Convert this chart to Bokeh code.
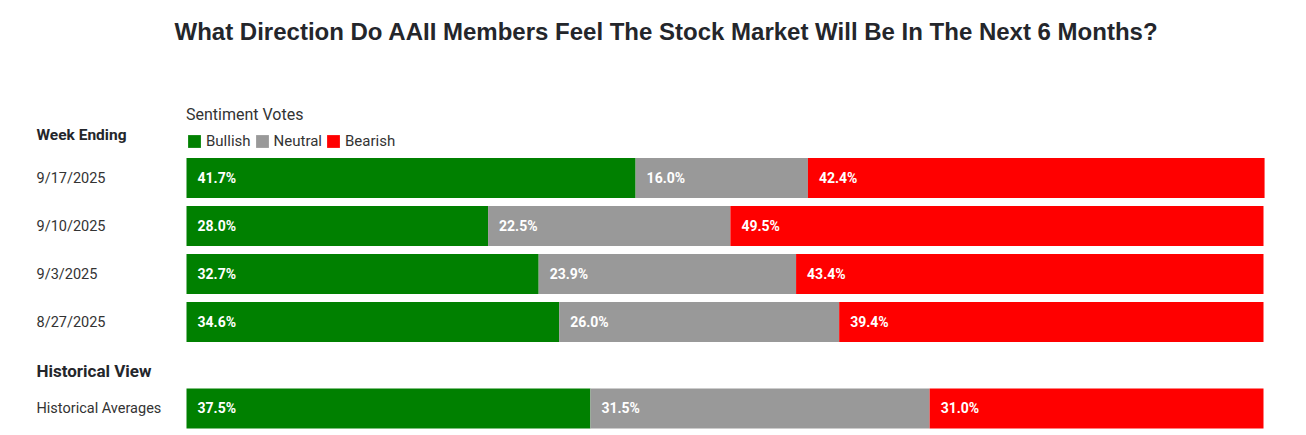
from bokeh.plotting import figure
from bokeh.models import ColumnDataSource, Range1d, Label
from bokeh.embed import file_html
from bokeh.resources import INLINE
from bokeh.core.properties import value

# ---- data ----
weeks = ["9/17/2025", "9/10/2025", "9/3/2025", "8/27/2025"]
bullish = [41.7, 28.0, 32.7, 34.6]
neutral = [16.0, 22.5, 23.9, 26.0]
bearish = [42.4, 49.5, 43.4, 39.4]

hist_labels = ["Historical Averages"]
hist_bullish = [37.5]
hist_neutral = [31.5]
hist_bearish = [31.0]

series = ["Bullish", "Neutral", "Bearish"]
colors = ["#008000", "#999999", "#ff0000"]

title_text = "What Direction Do AAII Members Feel The Stock Market Will Be In The Next 6 Months?"

# ---- layout ----
W, H = 1300, 432
PX = 10.77          # pixels per percentage point
X0 = 186            # pixel where 0% sits
PITCH = 48          # pixels per row
ROW0 = 177.5        # pixel (from top) of first row centre

labels = weeks + hist_labels
pos = [0, 1, 2, 3, 4.8]
b = bullish + hist_bullish
n = neutral + hist_neutral
r = bearish + hist_bearish

src = ColumnDataSource(dict(y=pos, label=labels, Bullish=b, Neutral=n, Bearish=r))

p = figure(width=W, height=H, output_backend="svg", toolbar_location=None,
           x_range=Range1d(-X0 / PX, (W - X0) / PX),
           y_range=Range1d((H - ROW0) / PITCH, -ROW0 / PITCH),
           min_border=0, outline_line_color=None)
p.axis.visible = False
p.grid.visible = False
p.background_fill_color = "white"
p.border_fill_color = "white"

p.hbar_stack(series, y="y", height=40 / PITCH, color=colors, source=src,
             line_color=None, legend_label=series)

# segment value labels
tx, ty, tt = [], [], []
for i in range(len(pos)):
    left = 0.0
    for v in (b[i], n[i], r[i]):
        tx.append(left)
        ty.append(pos[i])
        tt.append(f"{v:.1f}%")
        left += v
p.text(x=tx, y=ty, text=tt, x_offset=11, text_baseline="middle", text_align="left",
       text_color="white", text_font=value("Roboto"), text_font_style="bold",
       text_font_size="14px")

# row labels
p.text(x=[0] * len(pos), y=pos, text=labels, x_offset=-150, text_baseline="middle",
       text_align="left", text_color="#333333", text_font=value("Roboto"),
       text_font_size="14.5px")

# title and headings
p.add_layout(Label(x=666, y=H - 31, x_units="screen", y_units="screen", text=title_text,
                   text_align="center", text_baseline="middle", text_font="Liberation Sans",
                   text_font_style="bold", text_font_size="24px", text_color="#24262b"))
p.add_layout(Label(x=36, y=H - 134, x_units="screen", y_units="screen", text="Week Ending",
                   text_baseline="middle", text_font="Roboto", text_font_style="bold",
                   text_font_size="15.5px", text_color="#24262b"))
p.add_layout(Label(x=36, y=H - 370, x_units="screen", y_units="screen", text="Historical View",
                   text_baseline="middle", text_font="Roboto", text_font_style="bold",
                   text_font_size="17px", text_color="#24262b"))

# legend
lg = p.legend[0]
lg.title = "Sentiment Votes"
lg.title_text_font = "Roboto"
lg.title_text_font_size = "16px"
lg.title_text_font_style = "normal"
lg.title_text_color = "#333333"
lg.title_standoff = 8
lg.orientation = "horizontal"
lg.location = (186, H - 150)
lg.padding = 0
lg.margin = 0
lg.spacing = 3
lg.label_standoff = 4
lg.glyph_width = 16
lg.glyph_height = 16
lg.label_height = 16
lg.label_text_font = "Roboto"
lg.label_text_font_size = "15px"
lg.label_text_color = "#333333"
lg.border_line_color = None
lg.background_fill_alpha = 0

open("out.html", "w").write(file_html(p, INLINE))
